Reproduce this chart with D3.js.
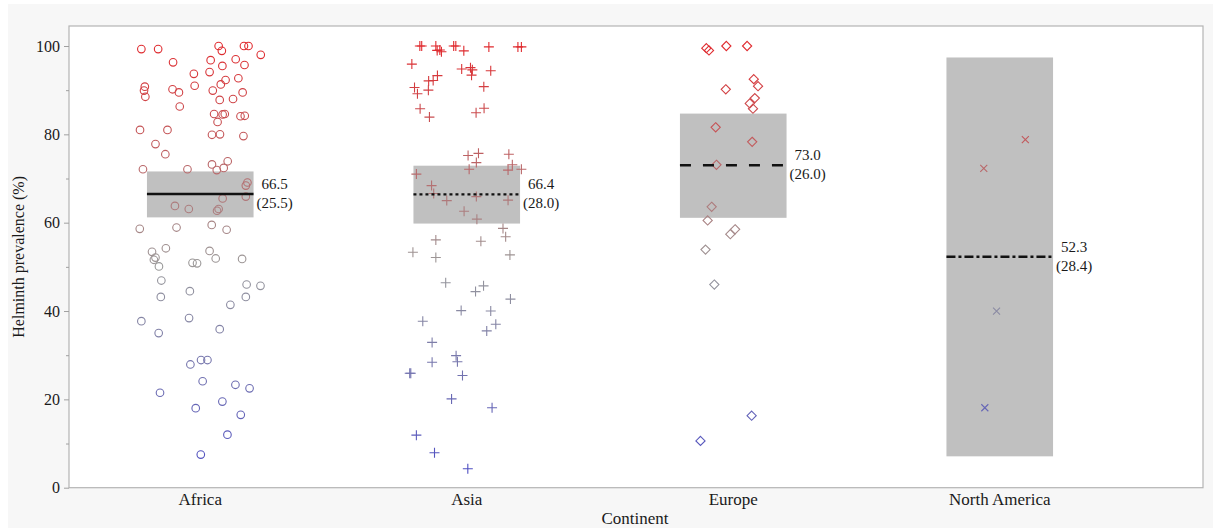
<!DOCTYPE html>
<html>
<head>
<meta charset="utf-8">
<script src="https://cdn.jsdelivr.net/npm/d3@7"></script>
<style>
  body { margin: 0; background: #fff; }
  text { font-family: "Liberation Serif", "Times New Roman", serif; fill: #1a1a1a; }
</style>
</head>
<body>
<svg id="viz"></svg>
<script>
var width = 1218;
var height = 528;

// categories and summary stats
var continents = ["Africa", "Asia", "Europe", "North America"];
var means = [66.5, 66.4, 73.0, 52.3];
var sds = [25.5, 28.0, 26.0, 28.4];
var ciLow = [61.2, 59.8, 61.1, 7.1];
var ciHigh = [71.6, 72.9, 84.7, 97.4];
var meanDash = ["none", "3,3", "11,12", "9,3,3,3"];
var yTicks = [0, 20, 40, 60, 80, 100];
var yMinor = [10, 30, 50, 70, 90];

// points: [jitter (% of category step), prevalence]
var africa = [
  [-22.1, 99.3], [-15.8, 99.3], [-10.2, 96.3], [-2.4, 93.7], [-2.1, 91.0], [-20.8, 90.8], [-21.1, 89.9],
  [-20.6, 88.5], [-10.4, 90.2], [-8.0, 89.5], [-7.7, 86.3], [-22.6, 81.0], [-12.3, 81.0], [-16.8, 77.8],
  [-13.1, 75.5], [-21.5, 72.1], [-4.8, 72.1], [6.9, 100], [8.1, 98.9], [16.4, 100], [18.1, 100],
  [22.7, 98.0], [3.9, 96.8], [13.3, 97.0], [8.3, 95.5], [16.6, 95.7], [3.5, 94.1], [9.5, 92.3],
  [7.7, 91.3], [14.3, 92.7], [4.7, 89.9], [15.9, 89.5], [7.3, 87.8], [12.3, 88.0], [5.2, 84.6],
  [8.4, 84.5], [9.2, 84.6], [6.5, 82.8], [15.1, 84.1], [16.7, 84.2], [4.4, 79.9], [7.4, 80.0],
  [16.2, 79.6], [4.4, 73.2], [10.3, 73.9], [6.2, 71.9], [8.8, 72.4], [17.7, 69.1], [17.1, 68.4],
  [8.4, 65.5], [17.1, 65.9], [-9.5, 63.8], [-4.3, 63.1], [6.9, 63.1], [6.3, 62.7], [-22.7, 58.6],
  [-8.9, 58.9], [4.3, 59.5], [9.9, 58.4], [-18.1, 53.4], [-12.9, 54.2], [-16.8, 52.1], [-17.4, 51.6],
  [3.5, 53.6], [5.8, 51.9], [15.7, 51.8], [-2.9, 50.9], [-1.2, 50.8], [-15.5, 50.1], [-14.6, 46.9],
  [-3.9, 44.5], [-14.8, 43.2], [17.4, 46.0], [22.6, 45.7], [17.1, 43.2], [11.3, 41.4], [-22.1, 37.7],
  [-4.2, 38.4], [-15.6, 35.0], [7.3, 35.9], [0.3, 28.9], [2.7, 28.9], [-3.7, 27.9], [0.9, 24.1],
  [13.2, 23.3], [18.5, 22.5], [-15.1, 21.5], [8.3, 19.5], [-1.7, 18.0], [15.2, 16.5], [10.2, 12.0],
  [0.2, 7.5]
];
var asia = [
  [-17.6, 100], [-16.9, 100], [-11.6, 100], [-11.1, 99.0], [-10.1, 99.1], [-9.5, 98.7], [-4.9, 100],
  [-4.1, 100], [-1.1, 98.9], [8.3, 99.8], [19.2, 99.8], [20.5, 99.8], [-20.6, 95.9], [-1.9, 94.8],
  [1.4, 95.1], [2.1, 94.6], [1.8, 93.4], [9.0, 94.4], [-11.0, 93.3], [-14.3, 92.1], [-12.6, 92.2],
  [-19.6, 90.6], [-18.5, 89.2], [-14.4, 90.0], [6.4, 90.8], [-17.5, 85.8], [-14.0, 83.9], [3.5, 84.9],
  [6.5, 85.9], [0.5, 75.2], [4.4, 75.7], [3.6, 73.6], [15.8, 75.5], [0.9, 72.1], [17.1, 73.1],
  [15.5, 71.9], [20.5, 72.1], [-18.9, 71.0], [-13.2, 68.4], [-12.4, 66.6], [-7.5, 65.0], [3.6, 65.9],
  [15.5, 65.1], [-1.0, 62.6], [3.8, 60.8], [13.6, 58.7], [14.6, 56.8], [-11.6, 56.1], [5.3, 55.8],
  [-20.2, 53.3], [-11.6, 52.1], [16.2, 52.7], [-7.9, 46.4], [3.3, 44.4], [6.3, 45.7], [16.4, 42.7],
  [-2.1, 40.1], [9.0, 40.0], [-16.5, 37.7], [10.9, 37.0], [7.5, 35.5], [-13.0, 32.9], [-4.0, 29.9],
  [-3.5, 28.5], [-13.0, 28.4], [-21.4, 25.9], [-21.0, 25.9], [-1.6, 25.4], [-5.7, 20.1], [9.5, 18.1],
  [-18.9, 11.9], [-12.1, 7.9], [0.4, 4.3]
];
var europe = [
  [-10.1, 99.5], [-9.1, 99.0], [-2.6, 100], [5.2, 100], [7.7, 92.5], [9.3, 90.9], [-2.8, 90.2],
  [8.1, 88.2], [6.2, 87.0], [7.4, 85.8], [-6.6, 81.6], [7.1, 78.3], [-6.3, 73.1], [-8.1, 63.6],
  [-9.6, 60.5], [0.7, 58.5], [-1.1, 57.4], [-10.4, 53.9], [-7.1, 46.0], [6.9, 16.3], [-12.3, 10.6]
];
var northAmerica = [
  [9.6, 78.8], [-6.0, 72.3], [-1.2, 40.0], [-5.6, 18.1]
];
var groups = [africa, asia, europe, northAmerica];

var svg = d3.select("#viz")
    .attr("width", width)
    .attr("height", height);

// outer panel + plot frame
svg.append("rect")
    .attr("x", 8).attr("y", 4)
    .attr("width", 1205).attr("height", 524)
    .attr("fill", "#f7f7f7");

var frame = {left: 69, right: 1203, top: 26, bottom: 487.7};

svg.append("rect")
    .attr("x", frame.left).attr("y", frame.top)
    .attr("width", frame.right - frame.left)
    .attr("height", frame.bottom - frame.top)
    .attr("fill", "#fff")
    .attr("stroke", "#b4b4b4")
    .attr("stroke-width", 1.2);

var x = d3.scaleBand()
    .domain(continents)
    .range([67, 1133])
    .padding(0);

var step = x.bandwidth();
var jitter = d3.scaleLinear().domain([-50, 50]).range([-step / 2, step / 2]);

var y = d3.scaleLinear()
    .domain([0, 100])
    .range([frame.bottom, 46]);

var color = d3.scaleLinear()
    .domain([0, 50, 100])
    .range(["#4848c6", "#9a9a9a", "#e02a2e"]);

// y axis
var yAxis = svg.append("g")
    .attr("transform", "translate(" + frame.left + ",0)")
    .call(d3.axisLeft(y).tickValues(yTicks).tickSize(5).tickPadding(4));
yAxis.select(".domain").remove();
yAxis.selectAll("line").attr("stroke", "#a0a0a0");
yAxis.selectAll("text")
    .style("font-family", "Liberation Serif")
    .style("font-size", "16px")
    .attr("fill", "#1a1a1a");

var yMinorAxis = svg.append("g")
    .attr("transform", "translate(" + frame.left + ",0)")
    .call(d3.axisLeft(y).tickValues(yMinor).tickSize(3).tickFormat(""));
yMinorAxis.select(".domain").remove();
yMinorAxis.selectAll("line").attr("stroke", "#a0a0a0");

// category labels
svg.append("g")
    .selectAll("text")
    .data(continents)
    .enter().append("text")
    .attr("x", function (d) { return x(d) + step / 2; })
    .attr("y", 505)
    .attr("text-anchor", "middle")
    .style("font-size", "17px")
    .text(function (d) { return d; });

// axis titles
svg.append("text")
    .attr("transform", "translate(24," + ((frame.top + frame.bottom) / 2) + ") rotate(-90)")
    .attr("text-anchor", "middle")
    .style("font-size", "16px")
    .text("Helminth prevalence (%)");

svg.append("text")
    .attr("x", 635)
    .attr("y", 524)
    .attr("text-anchor", "middle")
    .style("font-size", "17px")
    .text("Continent");

// CI boxes
var boxW = step * 0.4;
svg.append("g")
    .selectAll("rect")
    .data(continents)
    .enter().append("rect")
    .attr("x", function (d) { return x(d) + step / 2 - boxW / 2; })
    .attr("y", function (d, i) { return y(ciHigh[i]); })
    .attr("width", boxW)
    .attr("height", function (d, i) { return y(ciLow[i]) - y(ciHigh[i]); })
    .attr("fill", "#c0c0c0");

// markers
var shapes = [
  null,
  "M-5,0H5M0,-5V5",
  "M0,-4.6L4.6,0L0,4.6L-4.6,0Z",
  "M-3.5,-3.5L3.5,3.5M3.5,-3.5L-3.5,3.5"
];

groups.forEach(function (pts, gi) {
    var cx = x(continents[gi]) + step / 2;
    var g = svg.append("g");
    if (gi === 0) {
        g.selectAll("circle")
            .data(pts)
            .enter().append("circle")
            .attr("cx", function (d) { return cx + jitter(d[0]); })
            .attr("cy", function (d) { return y(d[1]); })
            .attr("r", 3.8)
            .attr("fill", "none")
            .attr("stroke", function (d) { return color(d[1]); })
            .attr("stroke-width", 1.1);
    } else {
        g.selectAll("path")
            .data(pts)
            .enter().append("path")
            .attr("transform", function (d) {
                return "translate(" + (cx + jitter(d[0])) + "," + y(d[1]) + ")";
            })
            .attr("d", shapes[gi])
            .attr("fill", "none")
            .attr("stroke", function (d) { return color(d[1]); })
            .attr("stroke-width", 1.1);
    }
});

// mean lines
svg.append("g")
    .selectAll("line")
    .data(continents)
    .enter().append("line")
    .attr("x1", function (d) { return x(d) + step / 2 - boxW / 2; })
    .attr("x2", function (d) { return x(d) + step / 2 + boxW / 2; })
    .attr("y1", function (d, i) { return y(means[i]); })
    .attr("y2", function (d, i) { return y(means[i]); })
    .attr("stroke", "#111")
    .attr("stroke-width", 2.4)
    .attr("stroke-dasharray", function (d, i) { return meanDash[i]; });

// mean (sd) labels
var labels = svg.append("g")
    .selectAll("text")
    .data(continents)
    .enter().append("text")
    .attr("text-anchor", "middle")
    .style("font-size", "15px");

labels.append("tspan")
    .attr("x", function (d) { return x(d) + step / 2 + boxW / 2 + 21; })
    .attr("y", function (d, i) { return y(means[i]) - 5; })
    .text(function (d, i) { return means[i].toFixed(1); });

labels.append("tspan")
    .attr("x", function (d) { return x(d) + step / 2 + boxW / 2 + 21; })
    .attr("y", function (d, i) { return y(means[i]) + 14; })
    .text(function (d, i) { return "(" + sds[i].toFixed(1) + ")"; });
</script>
</body>
</html>
